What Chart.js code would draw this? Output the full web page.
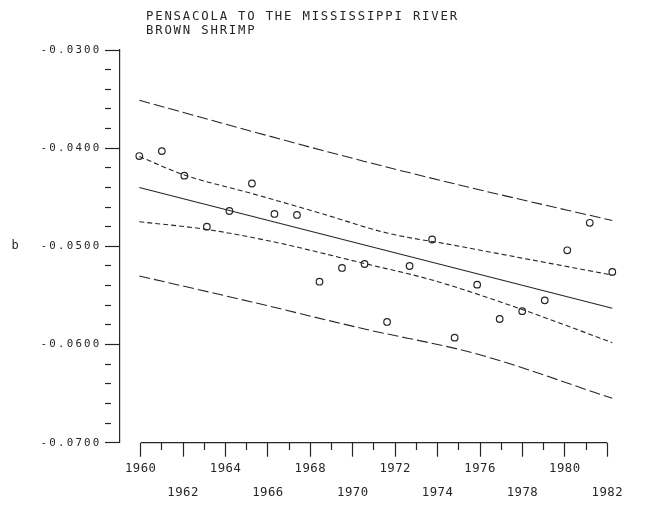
<!DOCTYPE html>
<html>
<head>
<meta charset="utf-8">
<script src="https://cdn.jsdelivr.net/npm/chart.js@4/dist/chart.umd.min.js"></script>
<style>
  html, body { margin: 0; padding: 0; background: #ffffff; }
  canvas { display: block; }
</style>
</head>
<body>
<canvas id="c" width="653" height="505"></canvas>
<script>
// ---------- DATA ----------
const titleLines = ['PENSACOLA TO THE MISSISSIPPI RIVER', 'BROWN SHRIMP'];
const yAxisLabel = 'b';

const years = [1960, 1961, 1962, 1963, 1964, 1965, 1966, 1967, 1968, 1969, 1970,
               1971, 1972, 1973, 1974, 1975, 1976, 1977, 1978, 1979, 1980, 1981];
const bValues = [-0.0408, -0.0403, -0.0428, -0.0480, -0.0464, -0.0436, -0.0467, -0.0468,
                 -0.0536, -0.0522, -0.0518, -0.0577, -0.0520, -0.0493, -0.0593, -0.0539,
                 -0.0574, -0.0566, -0.0555, -0.0504, -0.0476, -0.0526];

const regYears = [1960, 1981];
const regValues = [-0.0440, -0.0563];

const upperConfYears = [1960, 1962, 1965, 1968, 1971, 1974, 1977, 1981];
const upperConfValues = [-0.04085, -0.04273, -0.04462, -0.04660, -0.04864, -0.04990, -0.05120, -0.05292];

const lowerConfYears = [1960, 1963, 1966, 1970, 1973, 1977, 1981];
const lowerConfValues = [-0.04749, -0.04828, -0.04956, -0.05175, -0.05343, -0.05643, -0.05981];

const upperPredYears = [1960, 1965, 1970, 1975, 1981];
const upperPredValues = [-0.03512, -0.03829, -0.04135, -0.04418, -0.04737];

const lowerPredYears = [1960, 1965, 1970, 1975, 1981];
const lowerPredValues = [-0.05302, -0.05567, -0.05842, -0.06097, -0.06548];

// tick marks and labels
const xTickYears = [1960, 1961, 1962, 1963, 1964, 1965, 1966, 1967, 1968, 1969, 1970, 1971,
                    1972, 1973, 1974, 1975, 1976, 1977, 1978, 1979, 1980, 1981, 1982];
const xLabelsUpperRow = ['1960', '1964', '1968', '1972', '1976', '1980'];
const xLabelsLowerRow = ['1962', '1966', '1970', '1974', '1978', '1982'];

const yTickValues = [-0.070, -0.068, -0.066, -0.064, -0.062, -0.060, -0.058, -0.056, -0.054, -0.052,
                     -0.050, -0.048, -0.046, -0.044, -0.042, -0.040, -0.038, -0.036, -0.034, -0.032, -0.030];
const yMajorValues = [-0.07, -0.06, -0.05, -0.04, -0.03];
const yMajorLabels = ['-0.0700', '-0.0600', '-0.0500', '-0.0400', '-0.0300'];

// ---------- helpers ----------
const pairs = (xs, ys) => xs.map((x, i) => ({ x: x, y: ys[i] }));
const INK = '#262626';
const FONT = "'DejaVu Sans Mono', 'Liberation Mono', monospace";
const isMajorY = v => yMajorValues.some(m => Math.abs(m - v) < 1e-9);
const majorLabelY = v => {
  const i = yMajorValues.findIndex(m => Math.abs(m - v) < 1e-9);
  return i >= 0 ? yMajorLabels[i] : '';
};
const isLabelledX = v => xLabelsUpperRow.includes(String(v)) || xLabelsLowerRow.includes(String(v));

// letter spacing for tick labels (plotter lettering is widely spaced)
const spacingPlugin = {
  id: 'labelSpacing',
  beforeDraw(chart, args, opts) {
    Object.values(chart.scales).forEach(scale => {
      if (scale._spacingWrapped) return;
      const orig = scale.drawLabels;
      scale.drawLabels = function (area) {
        const ctx = this.ctx;
        const prev = ctx.letterSpacing;
        ctx.letterSpacing = (opts[this.id] || 0) + 'px';
        orig.call(this, area);
        ctx.letterSpacing = prev;
      };
      scale._spacingWrapped = true;
    });
  }
};

// title lines, vertical axis name, and x axis base line
const annotatePlugin = {
  id: 'plotText',
  afterDraw(chart) {
    const ctx = chart.ctx;
    const xs = chart.scales.x;
    const ys = chart.scales.y;
    ctx.save();
    // x axis line spanning the first to the last tick
    ctx.strokeStyle = INK;
    ctx.lineWidth = 1.2;
    ctx.beginPath();
    ctx.moveTo(xs.getPixelForValue(xTickYears[0]), xs.top);
    ctx.lineTo(xs.getPixelForValue(xTickYears[xTickYears.length - 1]), xs.top);
    ctx.stroke();
    // title
    ctx.fillStyle = INK;
    ctx.font = '12.3px ' + FONT;
    ctx.letterSpacing = '1.8px';
    ctx.textAlign = 'left';
    ctx.textBaseline = 'alphabetic';
    ctx.fillText(titleLines[0], 146, 20);
    ctx.fillText(titleLines[1], 146, 33.5);
    // y axis name
    ctx.letterSpacing = '0px';
    ctx.textAlign = 'center';
    ctx.textBaseline = 'middle';
    ctx.font = '12px ' + FONT;
    ctx.fillText(yAxisLabel, 15, (ys.top + ys.bottom) / 2);
    ctx.restore();
  }
};

new Chart(document.getElementById('c'), {
  data: {
    datasets: [
      {
        type: 'scatter', label: 'b', xAxisID: 'xd', yAxisID: 'y',
        data: pairs(years, bValues),
        pointStyle: 'circle', pointRadius: 3.3, pointBorderWidth: 1.2,
        pointBorderColor: INK, pointBackgroundColor: 'rgba(0,0,0,0)', showLine: false
      },
      {
        type: 'line', label: 'regression', xAxisID: 'xd', yAxisID: 'y',
        data: pairs(regYears, regValues),
        borderColor: INK, borderWidth: 1.1, pointRadius: 0, fill: false
      },
      {
        type: 'line', label: 'upper confidence', xAxisID: 'xd', yAxisID: 'y',
        data: pairs(upperConfYears, upperConfValues),
        borderColor: INK, borderWidth: 1.1, borderDash: [5, 3], pointRadius: 0, fill: false,
        cubicInterpolationMode: 'monotone'
      },
      {
        type: 'line', label: 'lower confidence', xAxisID: 'xd', yAxisID: 'y',
        data: pairs(lowerConfYears, lowerConfValues),
        borderColor: INK, borderWidth: 1.1, borderDash: [5, 3], pointRadius: 0, fill: false,
        cubicInterpolationMode: 'monotone'
      },
      {
        type: 'line', label: 'upper prediction', xAxisID: 'xd', yAxisID: 'y',
        data: pairs(upperPredYears, upperPredValues),
        borderColor: INK, borderWidth: 1.1, borderDash: [11, 4], pointRadius: 0, fill: false,
        cubicInterpolationMode: 'monotone'
      },
      {
        type: 'line', label: 'lower prediction', xAxisID: 'xd', yAxisID: 'y',
        data: pairs(lowerPredYears, lowerPredValues),
        borderColor: INK, borderWidth: 1.1, borderDash: [11, 4], pointRadius: 0, fill: false,
        cubicInterpolationMode: 'monotone'
      }
    ]
  },
  options: {
    responsive: false,
    animation: false,
    devicePixelRatio: 1,
    layout: { padding: { top: 50, right: 28, bottom: 0, left: 0 } },
    plugins: {
      legend: { display: false },
      title: { display: false },
      tooltip: { enabled: false },
      labelSpacing: { x: 0.5, y: 2.2 }
    },
    scales: {
      // scale that positions the plotted years
      xd: {
        type: 'linear', position: 'bottom', display: false,
        min: 1959.143, max: 1981.564
      },
      // drawn year axis
      x: {
        type: 'linear', position: 'bottom',
        min: 1959.024, max: 1982.835,
        afterBuildTicks: s => { s.ticks = xTickYears.map(v => ({ value: v })); },
        afterFit: s => { s.height = 62.3; },
        border: { display: false },
        grid: {
          drawOnChartArea: false, drawTicks: true, tickLength: 14,
          tickColor: INK, tickWidth: 1.2,
          tickBorderDash: c => (c.tick && isLabelledX(c.tick.value)) ? [] : [7, 40]
        },
        ticks: {
          autoSkip: false, maxRotation: 0, minRotation: 0, padding: 0.5,
          color: INK,
          font: { family: FONT, size: 12.3, lineHeight: '23.7px' },
          callback: v => {
            const s = String(v);
            if (xLabelsUpperRow.includes(s)) return s;
            if (xLabelsLowerRow.includes(s)) return ['', s];
            return '';
          }
        }
      },
      y: {
        type: 'linear', position: 'left',
        min: -0.07, max: -0.03,
        afterBuildTicks: s => { s.ticks = yTickValues.map(v => ({ value: v })); },
        afterFit: s => { s.width = 120; },
        border: { display: true, color: INK, width: 1.2 },
        grid: {
          drawOnChartArea: false, drawTicks: true, tickLength: 15,
          tickColor: INK, tickWidth: 1.2,
          tickBorderDash: c => (c.tick && isMajorY(c.tick.value)) ? [] : [6, 40]
        },
        ticks: {
          autoSkip: false, padding: 3.5, color: INK,
          font: { family: FONT, size: 10.8 },
          callback: v => majorLabelY(v)
        }
      }
    }
  },
  plugins: [spacingPlugin, annotatePlugin]
});
</script>
</body>
</html>
